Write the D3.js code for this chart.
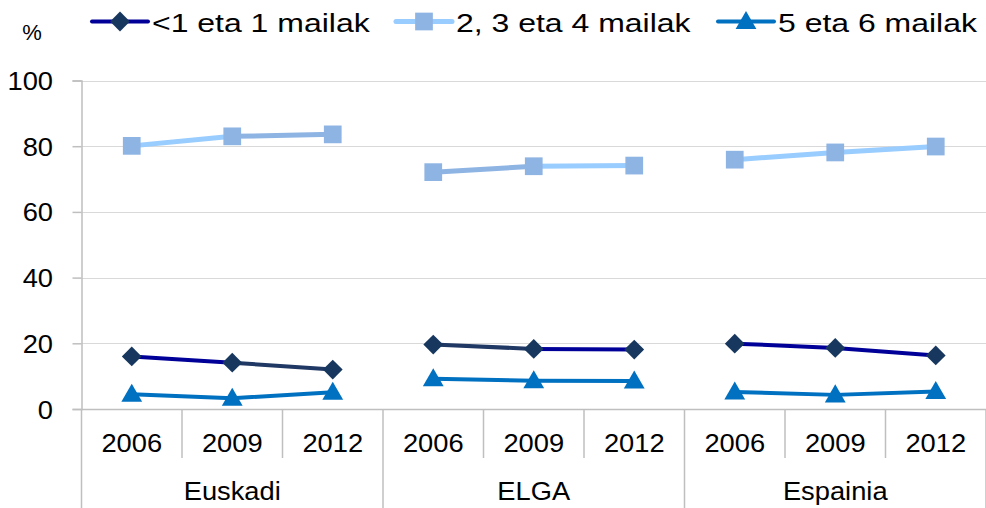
<!DOCTYPE html>
<html>
<head>
<meta charset="utf-8">
<script src="https://cdn.jsdelivr.net/npm/d3@7"></script>
<style>
  body { margin: 0; background: #fff; }
  svg { display: block; font-family: "Liberation Sans", Arial, sans-serif; }
</style>
</head>
<body>
<div id="container"></div>
<script>
// data
var groups = ['Euskadi', 'ELGA', 'Espainia'];
var years = ['2006', '2009', '2012'];
var seriesNames = ['<1 eta 1 mailak', '2, 3 eta 4 mailak', '5 eta 6 mailak'];
var lowLevels = [16.0, 14.1, 12.0, 19.6, 18.3, 18.1, 19.9, 18.6, 16.3];
var midLevels = [80.1, 83.0, 83.6, 72.1, 73.9, 74.1, 75.9, 78.1, 79.9];
var highLevels = [4.5, 3.3, 5.1, 9.2, 8.6, 8.5, 5.2, 4.3, 5.3];
var yTicks = [0, 20, 40, 60, 80, 100];

var width = 986, height = 508;
var margin = {top: 80.5, right: 0, bottom: 99, left: 81.5};

// styles per series (segments ending at altPoints get the alternate colour)
var styles = [
  {line: '#000099', alt: '#1F3864', marker: '#17375E', shape: d3.symbolDiamond2, size: 250, lw: 4, altPoints: [2, 4]},
  {line: '#99CCFF', alt: '#8EB4E3', marker: '#8EB4E3', shape: d3.symbolSquare2, size: 400, lw: 5, altPoints: [2, 4]},
  {line: '#0070C0', alt: '#0070C0', marker: '#0070C0', shape: d3.symbolTriangle2, size: 310, lw: 4, altPoints: []}
];
var fontSize = 26;
var stretchLegend = 1.23, stretchTick = 1.05;

var series = [lowLevels, midLevels, highLevels];
var keys = [];
groups.forEach(function(g) { years.forEach(function(y) { keys.push(g + '|' + y); }); });

var svg = d3.select('#container').append('svg')
  .attr('width', width)
  .attr('height', height);

var x = d3.scaleBand()
  .domain(keys)
  .range([margin.left, width - margin.right])
  .padding(0);

var y = d3.scaleLinear()
  .domain([0, 100])
  .range([height - margin.bottom, margin.top]);

var axisColor = '#BFBFBF';

// gridlines
svg.append('g')
  .selectAll('line')
  .data(yTicks.filter(function(t) { return t > 0; }))
  .join('line')
  .attr('x1', margin.left)
  .attr('x2', width)
  .attr('y1', function(d) { return Math.round(y(d)) + 0.5; })
  .attr('y2', function(d) { return Math.round(y(d)) + 0.5; })
  .attr('stroke', '#D9D9D9')
  .attr('stroke-width', 1.2);

// y axis
var yAxis = svg.append('g')
  .attr('transform', 'translate(' + margin.left + ',0)')
  .call(d3.axisLeft(y).tickValues(yTicks).tickSize(9).tickFormat(''));
yAxis.select('.domain').attr('stroke', axisColor).attr('stroke-width', 1.5);
yAxis.selectAll('.tick line').attr('stroke', axisColor).attr('stroke-width', 1.5);

svg.append('g')
  .selectAll('text')
  .data(yTicks)
  .join('text')
  .attr('transform', function(d) { return 'translate(53,' + (y(d) + 9.5) + ') scale(' + stretchTick + ',1)'; })
  .attr('text-anchor', 'end')
  .attr('font-size', fontSize)
  .attr('fill', '#000')
  .text(function(d) { return d; });

// "%" unit label
svg.append('text')
  .attr('x', 32)
  .attr('y', 40)
  .attr('text-anchor', 'middle')
  .attr('font-size', 22)
  .text('%');

// x axis (two levels)
var xAxis = svg.append('g')
  .attr('transform', 'translate(0,' + y(0) + ')')
  .call(d3.axisBottom(x).tickSize(0).tickFormat(''));
xAxis.select('.domain').attr('stroke', axisColor).attr('stroke-width', 1.5);

var bw = x.bandwidth();
// separators between years (short) and between groups (long)
svg.append('g')
  .selectAll('line')
  .data(keys.concat(['end']))
  .join('line')
  .attr('x1', function(d) { return d == 'end' ? width : x(d); })
  .attr('x2', function(d) { return d == 'end' ? width : x(d); })
  .attr('y1', y(0))
  .attr('y2', function(d, i) { return i % 3 == 0 ? height : y(0) + 49; })
  .attr('stroke', axisColor)
  .attr('stroke-width', 1.5);

svg.append('g')
  .selectAll('text')
  .data(keys)
  .join('text')
  .attr('transform', function(d) { return 'translate(' + (x(d) + bw / 2) + ',' + (y(0) + 42.5) + ') scale(' + stretchTick + ',1)'; })
  .attr('text-anchor', 'middle')
  .attr('font-size', fontSize)
  .text(function(d) { return d.split('|')[1]; });

svg.append('g')
  .selectAll('text')
  .data(groups)
  .join('text')
  .attr('transform', function(d) { return 'translate(' + (x(d + '|' + years[1]) + bw / 2) + ',' + (y(0) + 91) + ') scale(' + stretchTick + ',1)'; })
  .attr('text-anchor', 'middle')
  .attr('font-size', fontSize)
  .text(function(d) { return d; });

// lines, drawn as segments inside each group
series.forEach(function(vals, s) {
  var st = styles[s];
  var segs = [];
  for (var i = 1; i < keys.length; i++) {
    if (i % 3 == 0) continue;
    segs.push({a: i - 1, b: i});
  }
  svg.append('g')
    .selectAll('line')
    .data(segs)
    .join('line')
    .attr('x1', function(d) { return x(keys[d.a]) + bw / 2; })
    .attr('y1', function(d) { return y(vals[d.a]); })
    .attr('x2', function(d) { return x(keys[d.b]) + bw / 2; })
    .attr('y2', function(d) { return y(vals[d.b]); })
    .attr('stroke', function(d) { return st.altPoints.indexOf(d.b) >= 0 ? st.alt : st.line; })
    .attr('stroke-width', st.lw)
    .attr('stroke-linecap', 'round');
});

// markers
series.forEach(function(vals, s) {
  var st = styles[s];
  var sym = d3.symbol().type(st.shape).size(st.size);
  svg.append('g')
    .selectAll('path')
    .data(vals)
    .join('path')
    .attr('d', sym)
    .attr('transform', function(d, i) {
      var dy = st.shape === d3.symbolTriangle2 ? 1.5 : 0;
      return 'translate(' + (x(keys[i]) + bw / 2) + ',' + (y(d) + dy) + ')';
    })
    .attr('fill', st.marker);
});

// legend
var legendX = [92, 396, 718];
var legend = svg.append('g');
seriesNames.forEach(function(name, s) {
  var st = styles[s];
  var g = legend.append('g').attr('transform', 'translate(' + legendX[s] + ',21.5)');
  g.append('line')
    .attr('x1', 0).attr('x2', 56)
    .attr('stroke', st.line)
    .attr('stroke-width', st.lw)
    .attr('stroke-linecap', 'round');
  g.append('path')
    .attr('d', d3.symbol().type(st.shape).size(st.size))
    .attr('transform', 'translate(28,' + (s == 2 ? 1.5 : 0) + ')')
    .attr('fill', st.marker);
  g.append('text')
    .attr('transform', 'translate(60,10) scale(' + stretchLegend + ',1)')
    .attr('font-size', fontSize)
    .text(name);
});
</script>
</body>
</html>
